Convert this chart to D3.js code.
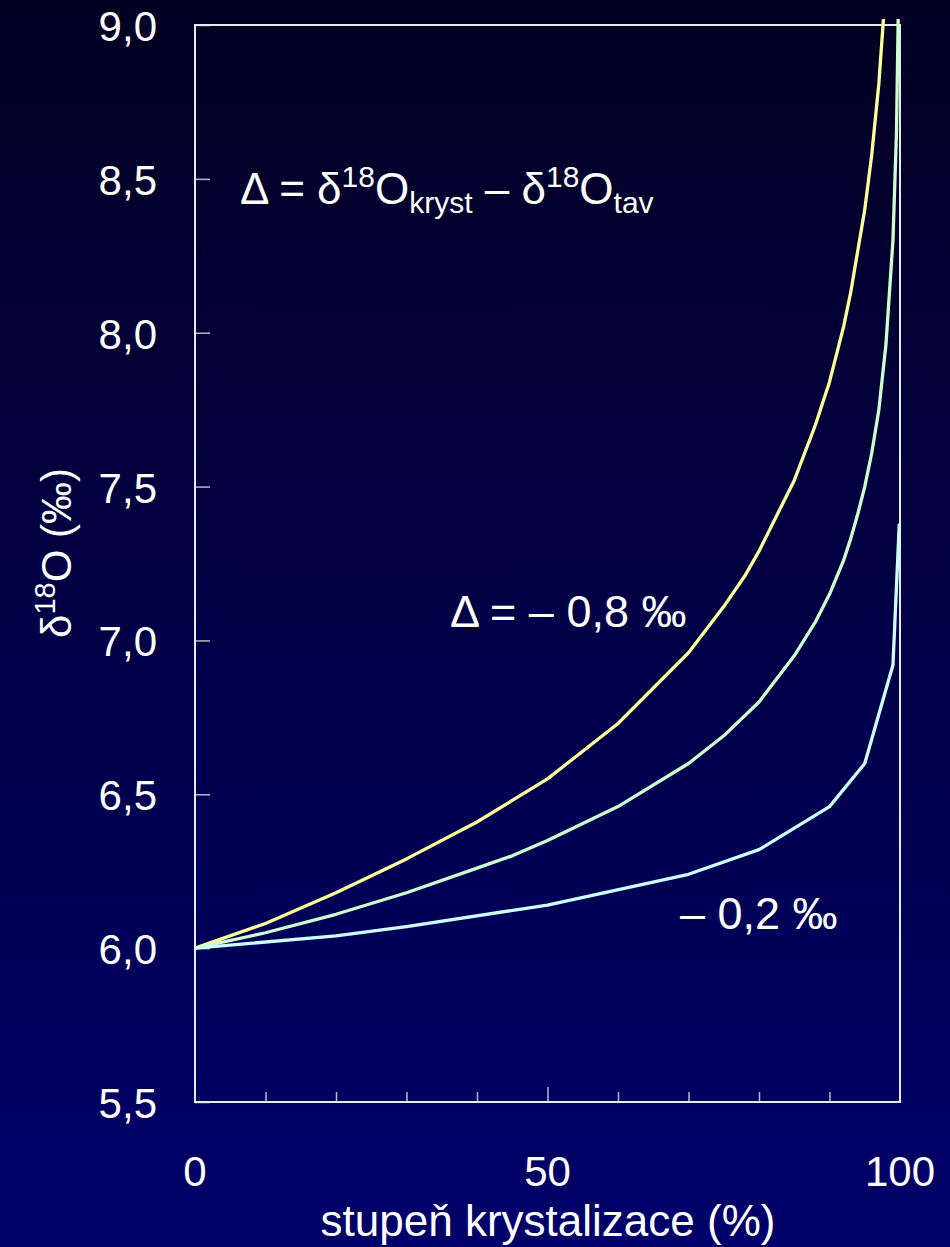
<!DOCTYPE html>
<html>
<head>
<meta charset="utf-8">
<script src="https://cdn.jsdelivr.net/npm/d3@7"></script>
<style>
html,body{margin:0;padding:0;background:#000044;}
svg{display:block;font-family:"Liberation Sans",Arial,sans-serif;}
</style>
</head>
<body>
<script>
// ---- data ----
const yTicks = [5.5, 6.0, 6.5, 7.0, 7.5, 8.0, 8.5, 9.0];
const yTickLabels = ["5,5", "6,0", "6,5", "7,0", "7,5", "8,0", "8,5", "9,0"];
const xTickLabels = [0, 50, 100];
const xMinorTicks = [10, 20, 30, 40, 50, 60, 70, 80, 90];

// Δ = -0,8 ‰ (yellow)
const xYellow = [0, 10, 20, 30, 40, 45, 50, 60, 70, 75, 78, 80, 85, 88, 90, 92, 93, 95, 96, 97, 98];
const yYellow = [6.00, 6.08, 6.18, 6.29, 6.41, 6.48, 6.55, 6.73, 6.96, 7.11, 7.21, 7.29, 7.52, 7.70, 7.84, 8.02, 8.13, 8.40, 8.58, 8.81, 9.13];
// Δ = -0,5 ‰ (green)
const xGreen = [0, 10, 20, 30, 40, 45, 50, 60, 70, 75, 80, 85, 88, 90, 92, 93, 94, 95, 96, 97, 98, 99, 99.5, 99.8];
const yGreen = [6.00, 6.05, 6.11, 6.18, 6.26, 6.30, 6.35, 6.46, 6.60, 6.69, 6.80, 6.95, 7.06, 7.15, 7.26, 7.33, 7.41, 7.50, 7.61, 7.75, 7.96, 8.30, 8.65, 9.11];
// Δ = -0,2 ‰ (light blue)
const xBlue = [0, 20, 30, 50, 70, 80, 90, 95, 99, 99.9];
const yBlue = [6.00, 6.04, 6.07, 6.14, 6.24, 6.32, 6.46, 6.60, 6.92, 7.38];

const seriesColors = ["#FFFF99", "#CCFFCC", "#CCFFFF"];

// ---- layout ----
const W = 950, H = 1247;
const svg = d3.select("body").append("svg").attr("width", W).attr("height", H);

const defs = svg.append("defs");
const grad = defs.append("linearGradient").attr("id", "bg").attr("x1", 0).attr("y1", 0).attr("x2", 0).attr("y2", 1);
grad.append("stop").attr("offset", "0%").attr("stop-color", "#030022");
grad.append("stop").attr("offset", "100%").attr("stop-color", "#00006a");
svg.append("rect").attr("width", W).attr("height", H).attr("fill", "url(#bg)");

const x = d3.scaleLinear().domain([0, 100]).range([195, 900]);
const y = d3.scaleLinear().domain([5.5, 9.0]).range([1102, 25]);

defs.append("clipPath").attr("id", "clip").append("rect")
  .attr("x", x(0) - 5).attr("y", 19).attr("width", x(100) - x(0) + 10).attr("height", y(5.5) - 19);

// y ticks (inward)
const yAxis = d3.axisRight(y).tickValues(yTicks).tickSize(15).tickFormat("");
const gy = svg.append("g").attr("transform", `translate(${x(0)},0)`).call(yAxis);
gy.select(".domain").remove();
gy.selectAll(".tick line").attr("stroke", "#b8b8cc").attr("stroke-width", 1.5);

// x minor ticks (inward)
const xAxisMinor = d3.axisTop(x).tickValues(xMinorTicks).tickSize(10).tickFormat("");
const gx = svg.append("g").attr("transform", `translate(0,${y(5.5)})`).call(xAxisMinor);
gx.select(".domain").remove();
gx.selectAll(".tick line").attr("stroke", "#b8b8cc").attr("stroke-width", 1.5)
  .attr("y2", d => d === 50 ? -15 : -10);

// frame
svg.append("rect").attr("x", x(0)).attr("y", y(9)).attr("width", x(100) - x(0)).attr("height", y(5.5) - y(9))
  .attr("fill", "none").attr("stroke", "#e8e8f0").attr("stroke-width", 2);

// y tick labels
svg.append("g").selectAll("text").data(yTicks).join("text")
  .attr("x", 157).attr("y", d => y(d) + 16)
  .attr("text-anchor", "end").attr("fill", "#ffffff").attr("font-size", 42)
  .text((d, i) => yTickLabels[i]);

// x tick labels
svg.append("g").selectAll("text").data(xTickLabels).join("text")
  .attr("x", d => x(d)).attr("y", 1186)
  .attr("text-anchor", "middle").attr("fill", "#ffffff").attr("font-size", 42)
  .text(d => d);

// axis titles
svg.append("text").attr("x", 548).attr("y", 1236).attr("text-anchor", "middle")
  .attr("fill", "#ffffff").attr("font-size", 44).text("stupeň krystalizace (%)");

const yt = svg.append("text").attr("transform", "translate(71,553) rotate(-90)")
  .attr("text-anchor", "middle").attr("fill", "#ffffff").attr("font-size", 42);
yt.append("tspan").text("δ");
yt.append("tspan").attr("font-size", 29).attr("dy", -16).text("18");
yt.append("tspan").attr("dy", 16).text("O (‰)");

// lines
const line = d3.line().x(d => x(d[0])).y(d => y(d[1]));
const series = [
  d3.zip(xYellow, yYellow),
  d3.zip(xGreen, yGreen),
  d3.zip(xBlue, yBlue)
];
svg.append("g").attr("clip-path", "url(#clip)").selectAll("path").data(series).join("path")
  .attr("d", line).attr("fill", "none")
  .attr("stroke", (d, i) => seriesColors[i]).attr("stroke-width", 3.3).attr("stroke-linejoin", "round");

// annotations
const f = svg.append("text").attr("x", 240).attr("y", 204).attr("fill", "#ffffff").attr("font-size", 44);
f.append("tspan").text("Δ = δ");
f.append("tspan").attr("font-size", 30).attr("dy", -17).text("18");
f.append("tspan").attr("dy", 17).text("O");
f.append("tspan").attr("font-size", 30).attr("dy", 9).text("kryst");
f.append("tspan").attr("dy", -9).text(" – δ");
f.append("tspan").attr("font-size", 30).attr("dy", -17).text("18");
f.append("tspan").attr("dy", 17).text("O");
f.append("tspan").attr("font-size", 30).attr("dy", 9).text("tav");

svg.append("text").attr("x", 450).attr("y", 627).attr("fill", "#ffffff").attr("font-size", 45)
  .text("Δ = – 0,8 ‰");
svg.append("text").attr("x", 680).attr("y", 929).attr("fill", "#ffffff").attr("font-size", 45)
  .text("– 0,2 ‰");
</script>
</body>
</html>
